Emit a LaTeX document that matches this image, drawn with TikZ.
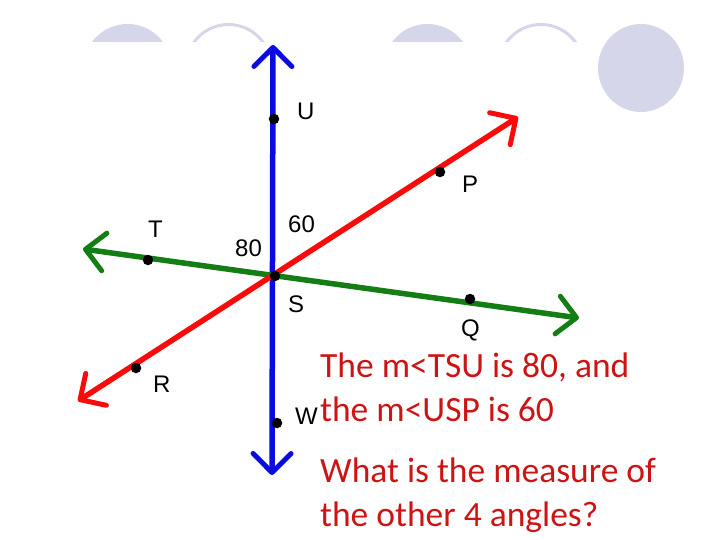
\documentclass[tikz,border=0pt]{standalone}
\usepackage{fontspec}
\setmainfont{Carlito}
\newfontfamily\lblfont{Liberation Sans}
\usetikzlibrary{arrows.meta}

\definecolor{deco}{RGB}{214,214,234}
\definecolor{lineblue}{RGB}{10,10,225}
\definecolor{linered}{RGB}{250,10,10}
\definecolor{linegreen}{RGB}{20,125,20}
\definecolor{txtred}{RGB}{205,20,20}

\tikzset{
  ray/.style={line width=5.5pt,line cap=round,
    {Straight Barb[length=19pt,width=38pt,line width=5pt,round]}-{Straight Barb[length=19pt,width=38pt,line width=5pt,round]}},
  dot/.style={circle,fill=black,inner sep=0pt,minimum size=10.5pt},
  lbl/.style={inner sep=0pt,anchor=base west,font=\lblfont\fontsize{24}{24}\selectfont},
  txt/.style={inner sep=0pt,anchor=base west,text=txtred,font=\fontsize{35.5}{40}\selectfont}
}

\begin{document}
\begin{tikzpicture}[x=1pt,y=-1pt]
	\useasboundingbox (0,0) rectangle (720,540);
	% decoration at the top
	\begin{scope}
		\clip (0,0) rectangle (720,42);
		\fill[deco] (127.5,68) circle (44);
		\draw[deco,line width=3pt] (228.5,67) circle (42.5);
		\fill[deco] (427.5,68) circle (44);
		\draw[deco,line width=3pt] (541,67) circle (42.5);
	\end{scope}
	\fill[deco] (641,68) ellipse (43 and 44);

	% points
	\coordinate (blueTop) at (273,45);
	\coordinate (blueBot) at (272,475);
	\coordinate (greenL) at (83,249);
	\coordinate (greenR) at (579,318);
	\coordinate (redL) at (78,401);
	\coordinate (redR) at (518,117);

	\draw[ray,lineblue] (blueBot) -- (blueTop);
	\draw[ray,linegreen] (greenL) -- (greenR);
	\draw[ray,linered] (redL) -- (redR);

	\node[dot] (U) at (274,119) {};
	\node[dot] (P) at (440,172) {};
	\node[dot] (T) at (148,260) {};
	\node[dot] (S) at (275,276) {};
	\node[dot] (Q) at (470,299) {};
	\node[dot] (R) at (136,368) {};
	\node[dot] (W) at (277,423) {};

	% labels
	\node[lbl] (labU) at (297,120) {U};
	\node[lbl] (labP) at (462,193) {P};
	\node[lbl] (labT) at (148,237) {T};
	\node[lbl] (lab60) at (288,233) {60};
	\node[lbl] (lab80) at (235,256) {80};
	\node[lbl] (labS) at (288,312) {S};
	\node[lbl] (labQ) at (461,336) {Q};
	\node[lbl] (labR) at (153,392) {R};
	\node[lbl] (labW) at (295,424) {W};

	% question
	\node[txt] (line1) at (320,377) {The m<TSU is 80, and};
	\node[txt] (line2) at (320,421) {the m<USP is 60};
	\node[txt] (line3) at (320,482) {What is the measure of};
	\node[txt] (line4) at (320,526) {the other 4 angles?};
\end{tikzpicture}
\end{document}
